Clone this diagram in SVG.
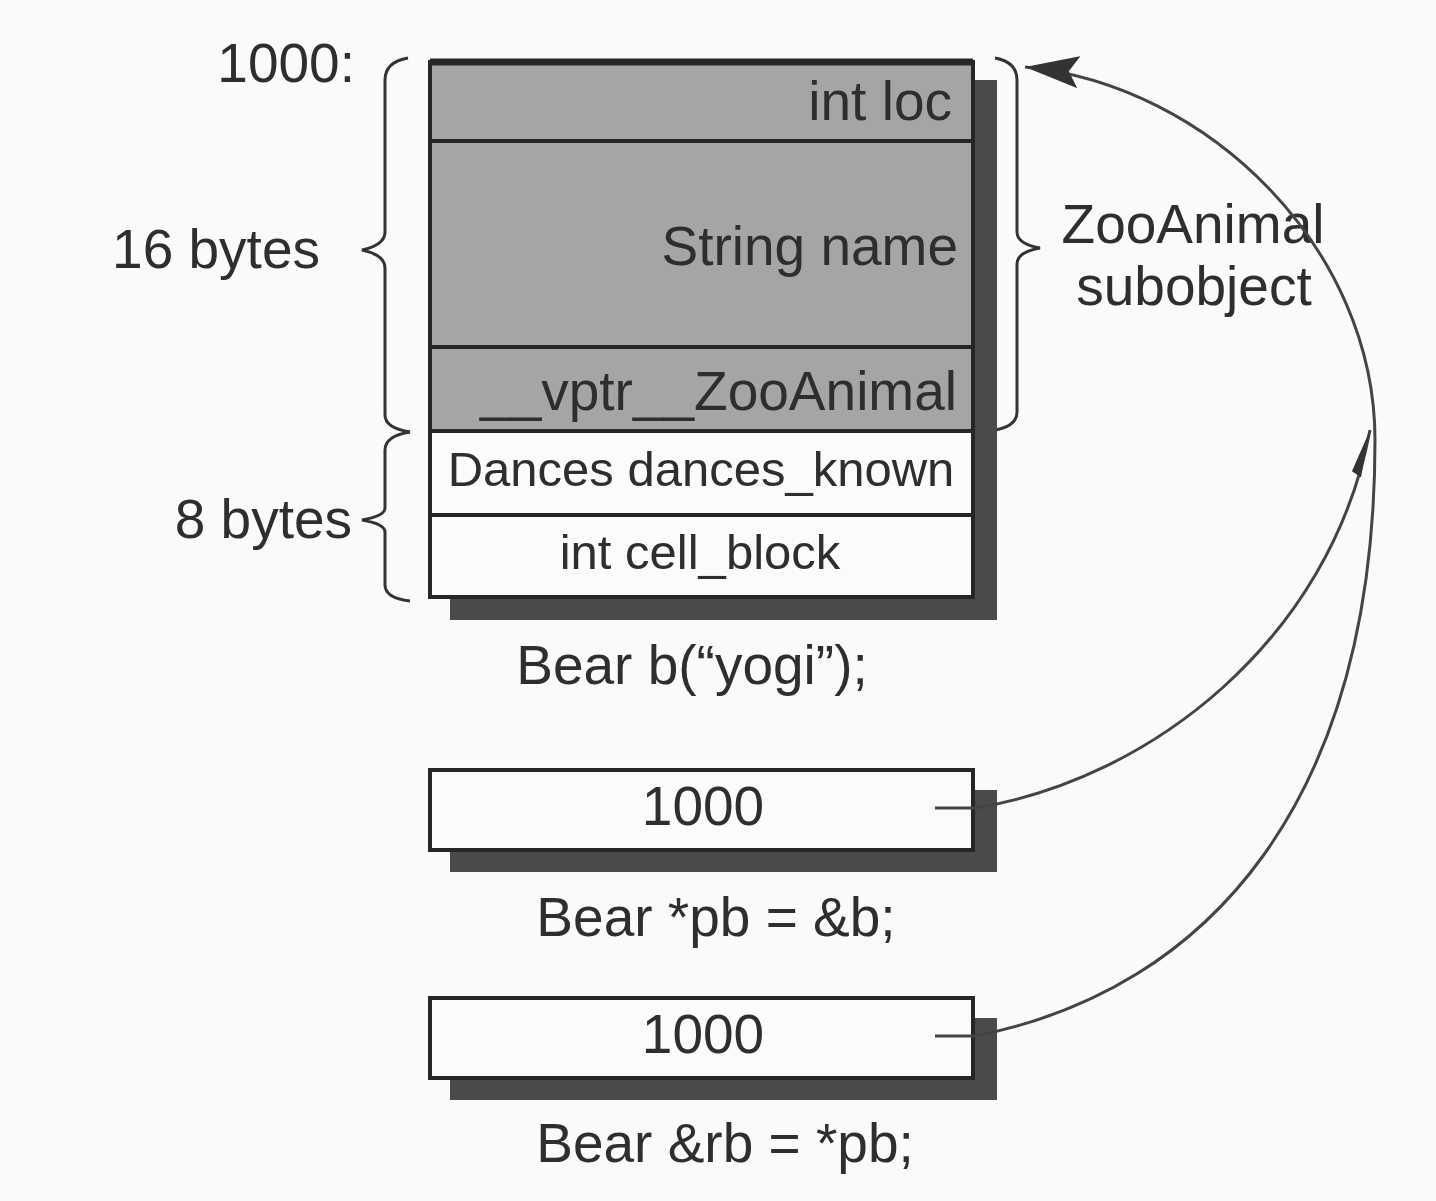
<svg xmlns="http://www.w3.org/2000/svg" width="1436" height="1201" viewBox="0 0 1436 1201">
<style>
  text { font-family: "Liberation Sans", Arial, sans-serif; fill: #2e2e2e; }
  .big { font-size: 55px; }
  .small { font-size: 49px; }
  .shadow { fill: #4a4a4a; }
  .gray { fill: #a5a5a5; stroke: #262626; stroke-width: 4; }
  .white { fill: #fbfbfb; stroke: #262626; stroke-width: 4; }
  .brace { fill: none; stroke: #333; stroke-width: 3; }
  .conn { fill: none; stroke: #444; stroke-width: 3; }
</style>
<defs>
  <marker id="arrowBig" markerUnits="userSpaceOnUse" markerWidth="56" markerHeight="34" refX="54" refY="16" orient="auto">
    <path d="M0,0 L54,16 L0,32 L10,16 z" fill="#333"/>
  </marker>
  <marker id="arrowSmall" markerUnits="userSpaceOnUse" markerWidth="50" markerHeight="20" refX="48" refY="10" orient="auto">
    <path d="M0,10 L48,10 L4,0 z" fill="#333"/>
  </marker>
</defs>
<rect width="1436" height="1201" fill="#fafafa"/>

<g id="labels-left">
  <text class="big" x="355" y="82" text-anchor="end">1000:</text>
  <text class="big" x="320" y="268" text-anchor="end">16 bytes</text>
  <text class="big" x="352" y="538" text-anchor="end">8 bytes</text>
</g>

<g id="braces">
  <path class="brace" d="M 408 58 Q 385 62 385 80 L 385 232 Q 385 245 362 250 Q 385 255 385 268 L 385 415 Q 385 428 410 432"/>
  <path class="brace" d="M 410 432 Q 385 436 385 450 L 385 508 Q 385 516 362 520 Q 385 524 385 532 L 385 585 Q 385 598 410 601"/>
  <path class="brace" d="M 995 58 Q 1017 62 1017 80 L 1017 232 Q 1017 244 1040 248 Q 1017 252 1017 264 L 1017 412 Q 1017 426 995 430"/>
</g>

<g id="bear-object">
  <rect class="shadow" x="450" y="80" width="547" height="540"/>
  <rect class="gray" x="430" y="62" width="543" height="79"/>
  <rect class="gray" x="430" y="141" width="543" height="206"/>
  <rect class="gray" x="430" y="347" width="543" height="84"/>
  <rect class="white" x="430" y="431" width="543" height="84"/>
  <rect class="white" x="430" y="515" width="543" height="82"/>
  <rect x="430" y="62" width="543" height="535" fill="none" stroke="#262626" stroke-width="4"/>
  <line x1="430" y1="62" x2="973" y2="62" stroke="#262626" stroke-width="7"/>
  <text class="big" x="952" y="120" text-anchor="end">int loc</text>
  <text class="big" x="958" y="265" text-anchor="end">String name</text>
  <text class="big" x="957" y="410" text-anchor="end">__vptr__ZooAnimal</text>
  <text class="small" x="701" y="486" text-anchor="middle">Dances dances_known</text>
  <text class="small" x="700" y="569" text-anchor="middle">int cell_block</text>
  <text class="big" x="692" y="684" text-anchor="middle">Bear b(“yogi”);</text>
</g>

<g id="zooanimal-label">
  <text class="big" x="1193" y="243" text-anchor="middle">ZooAnimal</text>
  <text class="big" x="1194" y="305" text-anchor="middle">subobject</text>
</g>

<g id="pb-box">
  <rect class="shadow" x="450" y="790" width="547" height="82"/>
  <rect class="white" x="430" y="770" width="543" height="80" stroke-width="3"/>
  <text class="big" x="703" y="825" text-anchor="middle">1000</text>
  <text class="big" x="716" y="936" text-anchor="middle">Bear *pb = &amp;b;</text>
</g>

<g id="rb-box">
  <rect class="shadow" x="450" y="1018" width="547" height="82"/>
  <rect class="white" x="430" y="998" width="543" height="80" stroke-width="3"/>
  <text class="big" x="703" y="1053" text-anchor="middle">1000</text>
  <text class="big" x="725" y="1162" text-anchor="middle">Bear &amp;rb = *pb;</text>
</g>

<g id="connectors">
  <path class="conn" d="M 935 1036 L 975 1036 C 1210 990, 1375 800, 1375 440 C 1375 250, 1210 85, 1025 67" marker-end="url(#arrowBig)"/>
  <path class="conn" d="M 935 808 L 975 808 C 1150 780, 1330 640, 1370 430" marker-end="url(#arrowSmall)"/>
</g>
</svg>
